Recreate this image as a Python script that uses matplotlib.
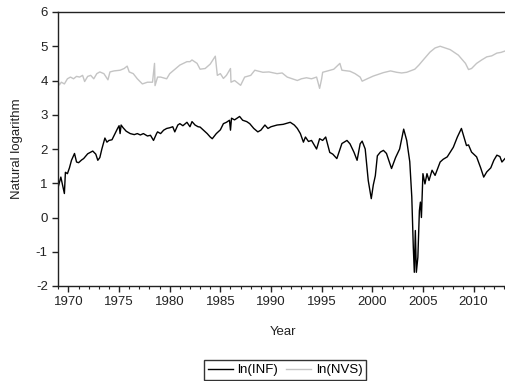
import matplotlib

matplotlib.use("Agg")
import matplotlib.pyplot as plt
from matplotlib.ticker import MultipleLocator

# Monthly-ish readings of the two log series (decimal year, value)
INF_YEARS = [
    1969.0, 1969.25, 1969.4, 1969.6, 1969.7, 1969.9, 1970.1, 1970.3, 1970.6, 1970.8,
    1971.0, 1971.3, 1971.5, 1971.9, 1972.4, 1972.7, 1972.9, 1973.1, 1973.3, 1973.6,
    1973.8, 1974.0, 1974.3, 1974.6, 1974.85, 1975.0, 1975.1, 1975.2, 1975.4, 1975.7,
    1976.1, 1976.5, 1976.8, 1977.1, 1977.4, 1977.8, 1978.1, 1978.4, 1978.7, 1978.8,
    1979.1, 1979.4, 1979.7, 1980.0, 1980.3, 1980.5, 1980.8, 1981.0, 1981.3, 1981.7,
    1982.0, 1982.2, 1982.5, 1982.8, 1983.0, 1983.3, 1983.7, 1984.0, 1984.2, 1984.6,
    1985.0, 1985.3, 1985.6, 1985.9, 1986.0, 1986.1, 1986.4, 1986.9, 1987.2, 1987.6,
    1987.9, 1988.3, 1988.7, 1989.0, 1989.4, 1989.7, 1990.0, 1990.6, 1991.2, 1991.9,
    1992.3, 1992.6, 1992.9, 1993.2, 1993.4, 1993.7, 1994.0, 1994.5, 1994.8, 1995.1,
    1995.4, 1995.8, 1996.1, 1996.5, 1997.0, 1997.5, 1997.8, 1998.2, 1998.5, 1998.8,
    1999.0, 1999.3, 1999.6, 1999.9, 2000.1, 2000.3, 2000.5, 2000.8, 2001.1, 2001.4,
    2001.9, 2002.3, 2002.7, 2003.1, 2003.4, 2003.7, 2003.9, 2004.05, 2004.15, 2004.25,
    2004.35, 2004.5, 2004.65, 2004.75, 2004.85, 2005.0, 2005.2, 2005.4, 2005.6, 2005.9,
    2006.2, 2006.7, 2007.0, 2007.4, 2007.7, 2008.0, 2008.4, 2008.8, 2009.0, 2009.3,
    2009.5, 2009.8, 2010.3, 2010.7, 2011.0, 2011.3, 2011.7, 2012.0, 2012.3, 2012.6,
    2012.8, 2013.1,
]
LN_INF = [
    0.90, 1.18, 0.97, 0.70, 1.32, 1.28, 1.45, 1.67, 1.87, 1.62,
    1.60, 1.68, 1.72, 1.86, 1.94, 1.85, 1.67, 1.75, 2.00, 2.32,
    2.20, 2.25, 2.27, 2.45, 2.60, 2.68, 2.45, 2.70, 2.62, 2.52,
    2.45, 2.42, 2.45, 2.41, 2.45, 2.38, 2.40, 2.25, 2.45, 2.50,
    2.45, 2.55, 2.60, 2.62, 2.65, 2.50, 2.70, 2.74, 2.68, 2.78,
    2.65, 2.80, 2.70, 2.65, 2.64, 2.56, 2.45, 2.35, 2.30, 2.45,
    2.56, 2.74, 2.78, 2.84, 2.55, 2.90, 2.85, 2.95, 2.84, 2.80,
    2.74, 2.60, 2.50, 2.55, 2.70, 2.60, 2.65, 2.70, 2.72, 2.78,
    2.70, 2.60, 2.45, 2.20, 2.35, 2.22, 2.25, 2.00, 2.30, 2.25,
    2.35, 1.90, 1.85, 1.72, 2.16, 2.25, 2.15, 1.90, 1.67, 2.15,
    2.23, 2.00, 1.08, 0.55, 0.95, 1.22, 1.80, 1.91, 1.96, 1.87,
    1.43, 1.75, 2.00, 2.58, 2.25, 1.63, 0.60, -0.87, -1.60, -0.38,
    -1.60, -1.16, 0.20, 0.45, 0.00, 1.28, 0.98, 1.28, 1.08, 1.38,
    1.23, 1.62, 1.70, 1.77, 1.91, 2.05, 2.35, 2.60, 2.40, 2.10,
    2.12, 1.91, 1.77, 1.45, 1.18, 1.33, 1.45, 1.67, 1.82, 1.78,
    1.62, 1.72,
]

NVS_YEARS = [
    1969.0, 1969.1, 1969.3, 1969.6, 1969.9, 1970.2, 1970.5, 1970.8, 1971.1, 1971.4,
    1971.6, 1971.9, 1972.2, 1972.5, 1972.8, 1973.1, 1973.5, 1973.9, 1974.1, 1974.5,
    1975.1, 1975.5, 1975.8, 1976.0, 1976.4, 1976.8, 1977.3, 1977.8, 1978.3, 1978.5,
    1978.55, 1978.8, 1979.1, 1979.7, 1980.0, 1980.4, 1981.0, 1981.7, 1982.0, 1982.2,
    1982.7, 1983.0, 1983.5, 1984.0, 1984.5, 1984.7, 1985.0, 1985.3, 1985.6, 1986.0,
    1986.05, 1986.4, 1987.0, 1987.4, 1988.0, 1988.4, 1989.2, 1989.8, 1990.6, 1991.1,
    1991.6, 1992.1, 1992.6, 1993.0, 1993.5, 1994.0, 1994.5, 1994.8, 1995.0, 1995.1,
    1995.6, 1996.2, 1996.8, 1997.0, 1997.8, 1998.3, 1998.8, 1999.0, 1999.5, 2000.1,
    2000.6, 2001.1, 2001.8, 2002.4, 2002.9, 2003.4, 2004.2, 2004.6, 2005.0, 2005.7,
    2006.2, 2006.7, 2007.2, 2007.7, 2008.1, 2008.5, 2009.2, 2009.5, 2009.8, 2010.3,
    2010.8, 2011.3, 2011.8, 2012.3, 2012.7, 2013.1,
]
LN_NVS = [
    3.97, 3.87, 3.95, 3.90, 4.05, 4.10, 4.05, 4.12, 4.10, 4.15,
    3.97, 4.12, 4.15, 4.05, 4.20, 4.25, 4.20, 4.02, 4.25, 4.28,
    4.30, 4.35, 4.42, 4.25, 4.20, 4.05, 3.90, 3.95, 3.95, 4.50,
    3.85, 4.10, 4.10, 4.05, 4.20, 4.30, 4.45, 4.55, 4.55, 4.60,
    4.50, 4.33, 4.35, 4.48, 4.71, 4.15, 4.20, 4.06, 4.15, 4.35,
    3.95, 4.00, 3.86, 4.10, 4.15, 4.30, 4.24, 4.25, 4.20, 4.22,
    4.10, 4.05, 4.00, 4.05, 4.08, 4.05, 4.10, 3.77, 4.05, 4.24,
    4.28, 4.33, 4.50, 4.30, 4.27, 4.20, 4.10, 3.98, 4.05, 4.13,
    4.18, 4.23, 4.28, 4.24, 4.22, 4.24, 4.33, 4.45, 4.59, 4.83,
    4.95, 5.00, 4.95, 4.90, 4.82, 4.74, 4.50, 4.32, 4.35, 4.50,
    4.60, 4.69, 4.72, 4.80, 4.82, 4.86,
]

plt.rcParams["font.family"] = ["Liberation Sans", "DejaVu Sans"]
plt.rcParams["axes.unicode_minus"] = False

FS = 9.5

fig = plt.figure(figsize=(5.05, 3.81), dpi=100)
ax = fig.add_axes([57.5 / 505, 95 / 381, 450 / 505, 274 / 381])

ax.plot(INF_YEARS, LN_INF, color="black", lw=1.0, label="ln(INF)")
ax.plot(NVS_YEARS, LN_NVS, color="#c4c4c4", lw=1.0, label="ln(NVS)")

ax.set_xlim(1968.92, 2013.35)
ax.set_ylim(-2, 6)
ax.xaxis.set_major_locator(MultipleLocator(5))
ax.xaxis.set_minor_locator(MultipleLocator(1))
ax.yaxis.set_major_locator(MultipleLocator(1))

for side in ("left", "bottom", "top"):
    ax.spines[side].set_linewidth(1.0)
    ax.spines[side].set_color("#222222")
ax.spines["right"].set_visible(False)

ax.tick_params(axis="both", which="major", direction="out", length=4, width=1.0,
               labelsize=FS, colors="#222222", pad=3)
ax.tick_params(axis="x", which="minor", direction="out", length=2.5, width=0.8,
               colors="#222222")

ax.set_xlabel("Year", fontsize=FS, color="#222222", labelpad=13)
ax.set_ylabel("Natural logarithm", fontsize=FS, color="#222222", labelpad=9)

leg = fig.legend(loc="center", bbox_to_anchor=(285 / 505, 11 / 381), ncol=2,
                 fontsize=FS, frameon=True, fancybox=False, edgecolor="black",
                 handlelength=1.9, columnspacing=0.6, borderpad=0.3,
                 handletextpad=0.35)
leg.get_frame().set_linewidth(1.0)

fig.savefig("out.png", dpi=100)
